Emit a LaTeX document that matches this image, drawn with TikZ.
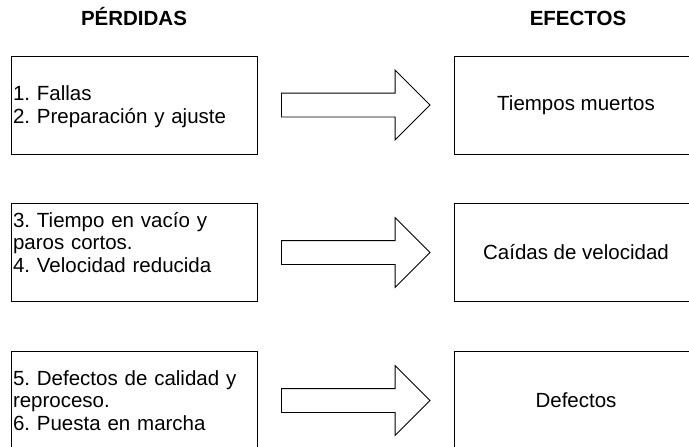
\documentclass[tikz,border=0pt]{standalone}
\usepackage{fontspec}
\setmainfont{Liberation Sans}
\usetikzlibrary{positioning,shapes.arrows}
\frenchspacing
\newcommand{\lin}{\rule[-5pt]{0pt}{24pt}}
\newcommand{\letra}{\fontsize{20.5}{22.5}\selectfont\lineskiplimit-100pt\relax}

\begin{document}
\begin{tikzpicture}[x=1pt,y=-1pt,
    every node/.style={font=\letra},
    caja/.style={draw=black,line width=0.8pt,minimum width=246pt,minimum height=98pt,inner sep=0pt,outer sep=0pt},
    perdida/.style={caja,text width=242pt,align=left,inner xsep=2pt},
    efecto/.style={caja,minimum width=244pt,align=center},
    flecha/.style={draw=black,line width=0.8pt,single arrow,minimum width=69pt,minimum height=148.5pt,
        single arrow head extend=23pt,inner xsep=0pt,inner ysep=11.5pt,outer sep=0pt},
    titulo/.style={font=\letra\bfseries}]
    \useasboundingbox (0,0) rectangle (689,447);

    % encabezados
    \node[titulo,anchor=base] (tp) at (134,26) {PÉRDIDAS};
    \node[titulo,anchor=base] (te) at (578,26) {EFECTOS};

    % primera fila
    \node[perdida] (p1) at (134,105) {\lin 1. Fallas\\\lin 2. Preparación y ajuste};
    \node[efecto] (e1) at (576,105) {Tiempos muertos};
    \node[flecha,right=24.5pt of p1] (f1) {};

    % segunda fila
    \node[perdida] (p2) at (134,252.5) {\lin 3. Tiempo en vacío y\\\lin paros cortos.\\\lin 4. Velocidad reducida\\[2.5pt]\mbox{}};
    \node[efecto] (e2) at (576,252.5) {Caídas de velocidad};
    \node[flecha,right=24.5pt of p2] (f2) {};

    % tercera fila
    \node[perdida] (p3) at (134,400.5) {\lin 5. Defectos de calidad y\\\lin reproceso.\\\lin 6. Puesta en marcha};
    \node[efecto] (e3) at (576,400.5) {Defectos};
    \node[flecha,right=24.5pt of p3] (f3) {};
\end{tikzpicture}
\end{document}
